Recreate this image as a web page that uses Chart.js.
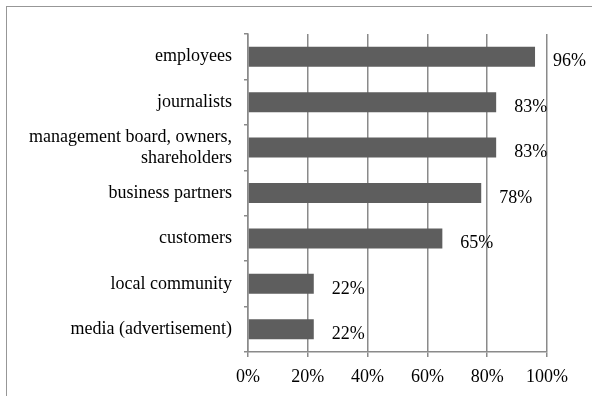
<!DOCTYPE html>
<html>
<head>
<meta charset="utf-8">
<script src="https://cdn.jsdelivr.net/npm/chart.js@4/dist/chart.umd.min.js"></script>
<style>
    html, body { margin: 0; padding: 0; background: #fff; }
    #wrap { position: relative; width: 592px; height: 396px; overflow: hidden; }
    #frame {
        position: absolute; left: 6px; top: 6px; width: 700px; height: 500px;
        border-left: 1.5px solid #979797; border-top: 1.5px solid #979797;
    }
    canvas { position: absolute; left: 0; top: 0; }
</style>
</head>
<body>
<div id="wrap">
    <div id="frame"></div>
    <canvas id="chart" width="592" height="396"></canvas>
</div>
<script>
const categories = [
    "employees",
    "journalists",
    ["management board, owners,", "shareholders"],
    "business partners",
    "customers",
    "local community",
    "media (advertisement)"
];
const shares = [96, 83, 83, 78, 65, 22, 22];
const xTicks = [0, 20, 40, 60, 80, 100];

const font = { family: "'Liberation Serif', 'DejaVu Serif', serif", size: 18 };
const gridColor = "#8a8a8a";

// draws "96%" etc. just right of each bar end, a bit below its centre
const valueLabels = {
    id: "valueLabels",
    afterDatasetsDraw(chart) {
        const ctx = chart.ctx;
        const meta = chart.getDatasetMeta(0);
        ctx.save();
        ctx.font = font.size + "px " + font.family;
        ctx.fillStyle = "#000";
        ctx.textAlign = "left";
        ctx.textBaseline = "middle";
        meta.data.forEach((bar, i) => {
            ctx.fillText(shares[i] + "%", bar.x + 18, bar.y + 5);
        });
        ctx.restore();
    }
};

new Chart(document.getElementById("chart"), {
    type: "bar",
    data: {
        labels: categories,
        datasets: [{
            data: shares,
            backgroundColor: "#5e5e5e",
            borderWidth: 0,
            categoryPercentage: 1,
            barPercentage: 0.44
        }]
    },
    options: {
        indexAxis: "y",
        responsive: false,
        animation: false,
        layout: { padding: { left: 0, top: 34, right: 45, bottom: 0 } },
        plugins: {
            legend: { display: false },
            tooltip: { enabled: false }
        },
        scales: {
            x: {
                min: 0,
                max: 100,
                afterBuildTicks: (axis) => { axis.ticks = xTicks.map(v => ({ value: v })); },
                afterFit: (axis) => { axis.height = 44; },
                grid: { color: gridColor, lineWidth: 1.5, tickLength: 5 },
                border: { color: gridColor, width: 1.5 },
                ticks: {
                    color: "#000",
                    font: font,
                    padding: 9,
                    maxRotation: 0,
                    callback: (v) => v + "%"
                }
            },
            y: {
                afterFit: (axis) => { axis.width = 248; },
                grid: { drawOnChartArea: false, color: gridColor, lineWidth: 1.5, tickLength: 4 },
                border: { color: gridColor, width: 1.5 },
                ticks: { color: "#000", font: font, padding: 12, autoSkip: false }
            }
        }
    },
    plugins: [valueLabels]
});
</script>
</body>
</html>
